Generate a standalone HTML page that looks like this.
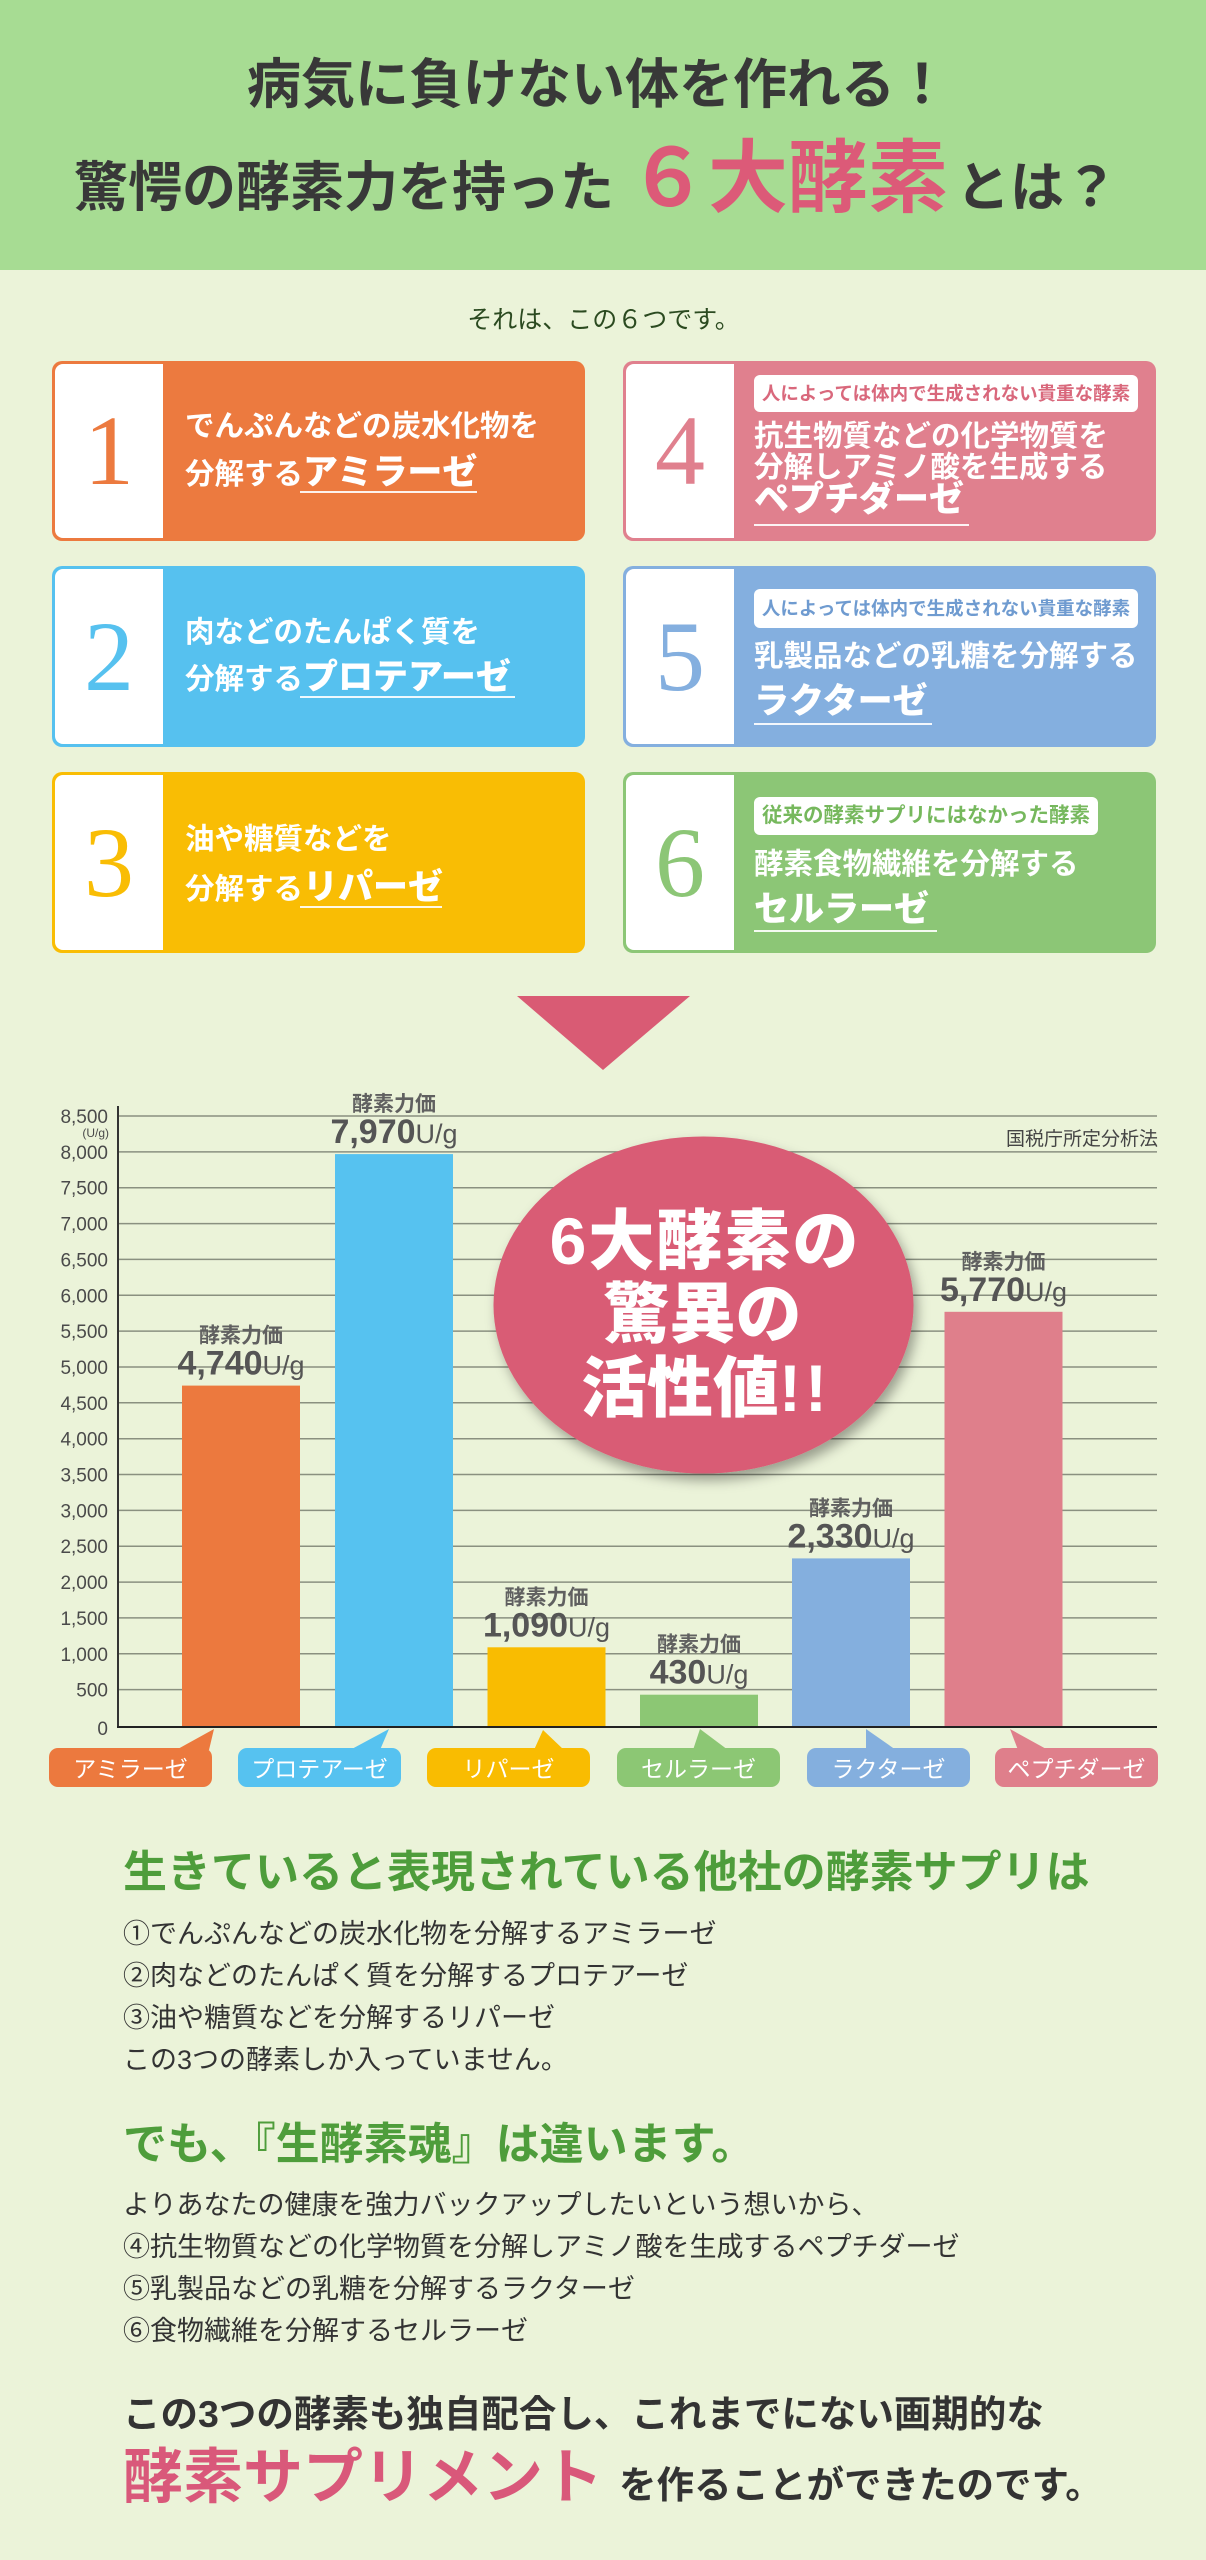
<!DOCTYPE html>
<html><head><meta charset="utf-8">
<style>
*{margin:0;padding:0;box-sizing:border-box}
html,body{width:1206px;height:2560px;overflow:hidden}
body{position:relative;background:#ebf3d9;font-family:"Liberation Sans","Noto Sans CJK JP",sans-serif;color:#333}
.abs{position:absolute;white-space:nowrap}
.hdr{position:absolute;left:0;top:0;width:1206px;height:270px;background:#a7dc93}
.card{position:absolute;width:533px;border-radius:10px}
.wb{position:absolute;left:3px;top:3px;bottom:3px;width:108px;background:#fff;border-radius:8px 0 0 8px}
.num{position:absolute;left:3px;top:0;width:108px;text-align:center;font-family:"Liberation Serif",serif;font-size:100px}
.t{position:absolute;white-space:nowrap;color:#fff;font-weight:bold;font-size:29.5px;line-height:40px}
.t b{font-size:35px}
.ul{position:absolute;height:2px;background:rgba(255,255,255,.9)}
.lab{position:absolute;background:#fff;border-radius:6px;text-align:center;font-weight:bold;white-space:nowrap}
.body{position:absolute;left:123px;white-space:nowrap;font-size:27px;line-height:40px;color:#333}
.h{position:absolute;left:123px;white-space:nowrap;font-size:44px;line-height:50px;font-weight:bold;color:#4e9d3b}
</style></head>
<body>
<div class="hdr"></div>

<div class="abs" style="left:0;top:50px;width:1196px;text-align:center;font-size:54px;line-height:70px;font-weight:bold;color:#383838">病気に負けない体を作れる！</div>
<div class="abs" style="left:0;top:134px;width:1192px;text-align:center;font-size:54px;line-height:90px;font-weight:bold;color:#383838">驚愕の酵素力を持った<span style="font-size:80px;color:#dc5a78;margin:0 8px 0 14px">６大酵素</span>とは？</div>

<div class="abs" style="left:0;top:305px;width:1207px;text-align:center;font-size:25px;line-height:30px;color:#2b4a20">それは、この６つです。</div>

<!-- card 1 -->
<div class="card" style="left:52px;top:361px;height:180px;background:#ec7a3f">
 <div class="wb"></div><div class="num" style="color:#ec7a3f;height:180px;line-height:180px">1</div>
 <div class="t" style="left:133px;top:46px">でんぷんなどの炭水化物を</div>
 <div class="t" style="left:133px;top:92px">分解する<b>アミラーゼ</b></div>
 <div class="ul" style="left:248px;top:130px;width:177px"></div>
</div>
<!-- card 4 -->
<div class="card" style="left:623px;top:361px;height:180px;background:#e0808e">
 <div class="wb"></div><div class="num" style="color:#e0808e;height:180px;line-height:180px">4</div>
 <div class="lab" style="left:131px;top:14px;width:384px;height:37px;line-height:37px;font-size:18.5px;color:#d9687c">人によっては体内で生成されない貴重な酵素</div>
 <div class="t" style="left:131px;top:60px;line-height:32px">抗生物質などの化学物質を</div>
 <div class="t" style="left:131px;top:91px;line-height:32px">分解しアミノ酸を生成する</div>
 <div class="t" style="left:131px;top:123px;line-height:32px"><b>ペプチダーゼ</b></div>
 <div class="ul" style="left:131px;top:163px;width:215px"></div>
</div>
<!-- card 2 -->
<div class="card" style="left:52px;top:566px;height:181px;background:#56c1ef">
 <div class="wb"></div><div class="num" style="color:#56c1ef;height:181px;line-height:181px">2</div>
 <div class="t" style="left:133px;top:47px">肉などのたんぱく質を</div>
 <div class="t" style="left:133px;top:92px">分解する<b>プロテアーゼ</b></div>
 <div class="ul" style="left:248px;top:130px;width:215px"></div>
</div>
<!-- card 5 -->
<div class="card" style="left:623px;top:566px;height:181px;background:#84afdf">
 <div class="wb"></div><div class="num" style="color:#84afdf;height:181px;line-height:181px">5</div>
 <div class="lab" style="left:131px;top:23px;width:384px;height:39px;line-height:39px;font-size:18.5px;color:#6f9bd0">人によっては体内で生成されない貴重な酵素</div>
 <div class="t" style="left:131px;top:71px">乳製品などの乳糖を分解する</div>
 <div class="t" style="left:131px;top:116px"><b>ラクターゼ</b></div>
 <div class="ul" style="left:131px;top:157px;width:178px"></div>
</div>
<!-- card 3 -->
<div class="card" style="left:52px;top:772px;height:181px;background:#f9bd04">
 <div class="wb"></div><div class="num" style="color:#f9bd04;height:181px;line-height:181px">3</div>
 <div class="t" style="left:133px;top:48px">油や糖質などを</div>
 <div class="t" style="left:133px;top:96px">分解する<b>リパーゼ</b></div>
 <div class="ul" style="left:248px;top:134px;width:142px"></div>
</div>
<!-- card 6 -->
<div class="card" style="left:623px;top:772px;height:181px;background:#8cc676">
 <div class="wb"></div><div class="num" style="color:#8cc676;height:181px;line-height:181px">6</div>
 <div class="lab" style="left:131px;top:25px;width:344px;height:38px;line-height:38px;font-size:20.5px;color:#76b85d">従来の酵素サプリにはなかった酵素</div>
 <div class="t" style="left:131px;top:73px">酵素食物繊維を分解する</div>
 <div class="t" style="left:131px;top:118px"><b>セルラーゼ</b></div>
 <div class="ul" style="left:131px;top:158px;width:183px"></div>
</div>

<svg class="abs" style="left:0;top:0" width="1206" height="2560" viewBox="0 0 1206 2560">
<defs><filter id="sh" x="-20%" y="-20%" width="140%" height="150%"><feDropShadow dx="4" dy="7" stdDeviation="6" flood-color="#000" flood-opacity="0.35"/></filter></defs>
<polygon points="517,996 690,996 603,1070" fill="#d95b74"/>
<g stroke="#8a9080" stroke-width="1.5">
<line x1="118" x2="1157" y1="1689.6" y2="1689.6"/>
<line x1="118" x2="1157" y1="1653.8" y2="1653.8"/>
<line x1="118" x2="1157" y1="1617.9" y2="1617.9"/>
<line x1="118" x2="1157" y1="1582.1" y2="1582.1"/>
<line x1="118" x2="1157" y1="1546.2" y2="1546.2"/>
<line x1="118" x2="1157" y1="1510.4" y2="1510.4"/>
<line x1="118" x2="1157" y1="1474.5" y2="1474.5"/>
<line x1="118" x2="1157" y1="1438.7" y2="1438.7"/>
<line x1="118" x2="1157" y1="1402.8" y2="1402.8"/>
<line x1="118" x2="1157" y1="1367.0" y2="1367.0"/>
<line x1="118" x2="1157" y1="1331.1" y2="1331.1"/>
<line x1="118" x2="1157" y1="1295.3" y2="1295.3"/>
<line x1="118" x2="1157" y1="1259.4" y2="1259.4"/>
<line x1="118" x2="1157" y1="1223.6" y2="1223.6"/>
<line x1="118" x2="1157" y1="1187.7" y2="1187.7"/>
<line x1="118" x2="1157" y1="1151.9" y2="1151.9"/>
<line x1="118" x2="1157" y1="1116.0" y2="1116.0"/>
</g>
<g font-family="'Liberation Sans','Noto Sans CJK JP',sans-serif" font-size="19" fill="#4a4a4a" text-anchor="end">
<text x="108" y="1735">0</text>
<text x="108" y="1696.6">500</text>
<text x="108" y="1660.8">1,000</text>
<text x="108" y="1624.9">1,500</text>
<text x="108" y="1589.1">2,000</text>
<text x="108" y="1553.2">2,500</text>
<text x="108" y="1517.4">3,000</text>
<text x="108" y="1481.5">3,500</text>
<text x="108" y="1445.7">4,000</text>
<text x="108" y="1409.8">4,500</text>
<text x="108" y="1374.0">5,000</text>
<text x="108" y="1338.1">5,500</text>
<text x="108" y="1302.3">6,000</text>
<text x="108" y="1266.4">6,500</text>
<text x="108" y="1230.6">7,000</text>
<text x="108" y="1194.7">7,500</text>
<text x="108" y="1158.9">8,000</text>
<text x="108" y="1123.0">8,500</text>
<text x="109" y="1137" font-size="12">(U/g)</text>
</g>
<text x="1158" y="1145" font-family="'Liberation Sans','Noto Sans CJK JP',sans-serif" font-size="19" fill="#444" text-anchor="end">国税庁所定分析法</text>

<rect x="182" y="1385.6" width="118" height="341.4" fill="#ec793e"/>
<rect x="335" y="1154.1" width="118" height="572.9" fill="#56c2f0"/>
<rect x="487.5" y="1647.3" width="118" height="79.7" fill="#f9bc01"/>
<rect x="640" y="1694.7" width="118" height="32.3" fill="#8cc774"/>
<rect x="792" y="1558.4" width="118" height="168.6" fill="#84afde"/>
<rect x="944.5" y="1311.8" width="118" height="415.2" fill="#df7f8b"/>

<line x1="118" y1="1106" x2="118" y2="1728" stroke="#333" stroke-width="2"/>
<line x1="117" y1="1727" x2="1157" y2="1727" stroke="#222" stroke-width="2"/>

<g font-family="'Liberation Sans','Noto Sans CJK JP',sans-serif" fill="#555" text-anchor="middle">
<text x="241" y="1342.6" font-size="21" font-weight="bold" fill="#606060">酵素力価</text>
<text x="241" y="1374.6"><tspan font-size="34" font-weight="bold">4,740</tspan><tspan font-size="27">U/g</tspan></text>
<text x="394" y="1111.1" font-size="21" font-weight="bold" fill="#606060">酵素力価</text>
<text x="394" y="1143.1"><tspan font-size="34" font-weight="bold">7,970</tspan><tspan font-size="27">U/g</tspan></text>
<text x="546.5" y="1604.3" font-size="21" font-weight="bold" fill="#606060">酵素力価</text>
<text x="546.5" y="1636.3"><tspan font-size="34" font-weight="bold">1,090</tspan><tspan font-size="27">U/g</tspan></text>
<text x="699" y="1651.7" font-size="21" font-weight="bold" fill="#606060">酵素力価</text>
<text x="699" y="1683.7"><tspan font-size="34" font-weight="bold">430</tspan><tspan font-size="27">U/g</tspan></text>
<text x="851" y="1515.4" font-size="21" font-weight="bold" fill="#606060">酵素力価</text>
<text x="851" y="1547.4"><tspan font-size="34" font-weight="bold">2,330</tspan><tspan font-size="27">U/g</tspan></text>
<text x="1003.5" y="1268.8" font-size="21" font-weight="bold" fill="#606060">酵素力価</text>
<text x="1003.5" y="1300.8"><tspan font-size="34" font-weight="bold">5,770</tspan><tspan font-size="27">U/g</tspan></text>
</g>

<ellipse cx="703.5" cy="1305" rx="210" ry="168.5" fill="#d95b74" filter="url(#sh)"/>
<g font-family="'Liberation Sans','Noto Sans CJK JP',sans-serif" font-size="66" font-weight="900" fill="#fff" text-anchor="middle">
<text x="705" y="1264" letter-spacing="2">6大酵素の</text>
<text x="702.5" y="1337">驚異の</text>
<text x="706" y="1411">活性値<tspan font-weight="bold" letter-spacing="4">!!</tspan></text>
</g>

<g>
<polygon points="176,1750 209,1750 214,1729" fill="#ec793e"/>
<polygon points="350,1750 380,1750 389,1729" fill="#56c2f0"/>
<polygon points="534,1750 564,1750 543,1730" fill="#f9bc01"/>
<polygon points="693,1750 728,1750 700,1729" fill="#8cc774"/>
<polygon points="866,1750 896,1750 866,1729" fill="#84afde"/>
<polygon points="1018,1750 1048,1750 1010,1729" fill="#df7f8b"/>
<rect x="49" y="1748" width="163" height="39" rx="9" fill="#ec793e"/>
<rect x="238" y="1748" width="163" height="39" rx="9" fill="#56c2f0"/>
<rect x="427" y="1748" width="163" height="39" rx="9" fill="#f9bc01"/>
<rect x="617" y="1748" width="163" height="39" rx="9" fill="#8cc774"/>
<rect x="807" y="1748" width="163" height="39" rx="9" fill="#84afde"/>
<rect x="995" y="1748" width="163" height="39" rx="9" fill="#df7f8b"/>
</g>
<g font-family="'Liberation Sans','Noto Sans CJK JP',sans-serif" font-size="23" fill="#fff" text-anchor="middle">
<text x="130.5" y="1777">アミラーゼ</text>
<text x="319.5" y="1777">プロテアーゼ</text>
<text x="508.5" y="1777">リパーゼ</text>
<text x="698.5" y="1777">セルラーゼ</text>
<text x="888.5" y="1777">ラクターゼ</text>
<text x="1076.5" y="1777">ペプチダーゼ</text>
</g>
</svg>

<div class="h" style="top:1848px">生きていると表現されている他社の酵素サプリは</div>
<div class="body" style="top:1914px">①でんぷんなどの炭水化物を分解するアミラーゼ</div>
<div class="body" style="top:1956px">②肉などのたんぱく質を分解するプロテアーゼ</div>
<div class="body" style="top:1998px">③油や糖質などを分解するリパーゼ</div>
<div class="body" style="top:2040px">この3つの酵素しか入っていません。</div>

<div class="h" style="top:2120px">でも、『生酵素魂』は違います。</div>
<div class="body" style="top:2185px">よりあなたの健康を強力バックアップしたいという想いから、</div>
<div class="body" style="top:2227px">④抗生物質などの化学物質を分解しアミノ酸を生成するペプチダーゼ</div>
<div class="body" style="top:2269px">⑤乳製品などの乳糖を分解するラクターゼ</div>
<div class="body" style="top:2311px">⑥食物繊維を分解するセルラーゼ</div>

<div class="abs" style="left:123px;top:2389px;font-size:37.5px;line-height:50px;font-weight:bold;color:#333">この3つの酵素も独自配合し、これまでにない画期的な</div>
<div class="abs" style="left:123px;top:2443px;font-size:60px;line-height:70px;font-weight:bold;color:#d9587a">酵素サプリメント<span style="font-size:37.5px;color:#333;margin-left:16px">を作ることができたのです。</span></div>
</body></html>
